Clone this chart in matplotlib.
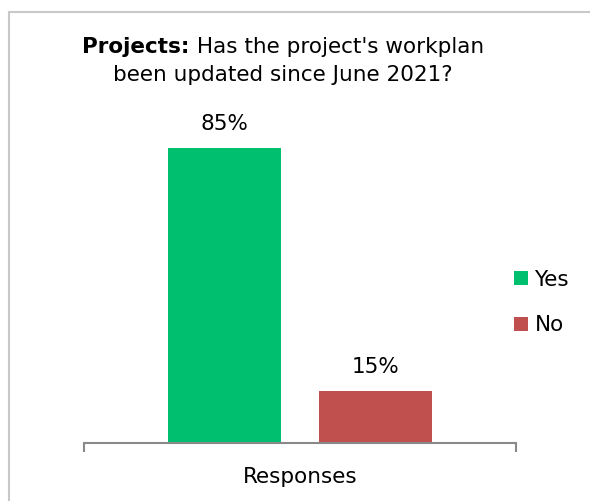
import matplotlib.pyplot as plt
from matplotlib.patches import Rectangle

categories = ["Yes", "No"]
shares = [0.85, 0.15]
colors = ["#00BF6F", "#C0504D"]
group_label = "Responses"

W, H = 590, 501
FS = 15.5
fig = plt.figure(figsize=(W / 100, H / 100), dpi=100)

# outer frame of the chart
fig.patches.append(Rectangle((9 / W, -0.1), 1.2, (H - 12) / H + 0.1,
                             transform=fig.transFigure, fill=False,
                             edgecolor="#c8c8c8", linewidth=1.5))

# axes in pixel units: x 84..516, baseline at y=443
ax = fig.add_axes([84 / W, (H - 443) / H, 432 / W, 343 / H])
ax.set_xlim(-0.5, 0.5)
ax.set_ylim(0, 343 / 347)

offsets = [-0.175, 0.175]
for cat, val, col, off in zip(categories, shares, colors, offsets):
    ax.bar(off, val, width=0.26, color=col, label=cat)
    ax.text(off, val + 0.04, f"{val:.0%}", ha="center", va="bottom", fontsize=FS)

for s in ["top", "right", "left"]:
    ax.spines[s].set_visible(False)
ax.spines["bottom"].set_color("#898989")
ax.spines["bottom"].set_linewidth(1.5)
ax.set_yticks([])
ax.set_xticks([-0.5, 0.5])
ax.set_xticklabels(["", ""])
ax.tick_params(axis="x", length=6.5, width=1.5, color="#898989", direction="out")
ax.text(0.5, -34 / 343, group_label, ha="center", va="center", fontsize=FS,
        transform=ax.transAxes)

leg = fig.legend(loc="center left", bbox_to_anchor=(514 / W, (H - 302.5) / H),
                 frameon=False, fontsize=FS, handlelength=0.65, handleheight=0.65,
                 handletextpad=0.3, labelspacing=1.2, borderpad=0, borderaxespad=0)

# title: bold lead-in followed by the question
renderer = fig.canvas.get_renderer()
t1 = fig.text(0, 0, "Projects:", fontsize=FS, fontweight="bold", va="center")
t2 = fig.text(0, 0, " Has the project's workplan", fontsize=FS, va="center")
w1 = t1.get_window_extent(renderer).width
w2 = t2.get_window_extent(renderer).width
x0 = 283 - (w1 + w2) / 2
t1.set_position((x0 / W, 1 - 47 / H))
t2.set_position(((x0 + w1) / W, 1 - 47 / H))
fig.text(283 / W, 1 - 75 / H, "been updated since June 2021?", fontsize=FS,
         ha="center", va="center")

fig.savefig("out.png", dpi=100)
